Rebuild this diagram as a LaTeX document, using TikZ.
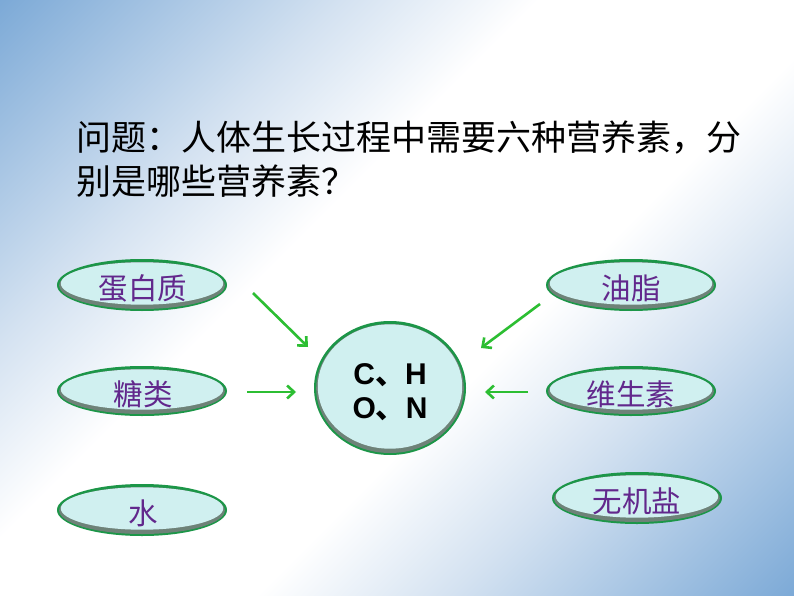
\documentclass[tikz,border=0pt]{standalone}
\usepackage{fontspec}
\setmainfont{Liberation Sans}
\newfontfamily\cjk{Noto Sans CJK SC}
\usetikzlibrary{arrows.meta,shapes.geometric}
\definecolor{bgb}{RGB}{122,168,214}
\definecolor{bgm}{RGB}{212,226,241}
\definecolor{edgegreen}{RGB}{28,150,72}
\definecolor{edgegray}{RGB}{110,130,120}
\definecolor{cyanfill}{RGB}{208,240,240}
\definecolor{txtpurple}{RGB}{98,40,140}
\definecolor{arrgreen}{RGB}{44,190,50}
\pgfdeclareverticalshading{bgshade}{100bp}{color(0bp)=(bgb); color(14bp)=(bgb); color(32bp)=(bgm); color(42bp)=(white); color(58bp)=(white); color(68bp)=(bgm); color(86bp)=(bgb); color(100bp)=(bgb)}
\tikzset{
  lbl/.style={font=\cjk\fontsize{29.5}{32}\selectfont, text=txtpurple, inner sep=0pt},
  ttl/.style={font=\cjk\fontsize{35}{40}\selectfont, text=black, inner sep=0pt, anchor=base west},
  arr/.style={draw=arrgreen, line width=2.6pt, -{Straight Barb[length=7pt,width=13pt,line width=2.6pt]}},
}
\newcommand{\bevel}[5]{% name, x, y, rx, ry
  \fill[edgegreen] (#2,#3) ellipse ({#4} and {#5});
  \fill[edgegray] (#2,#3+0.5) ellipse ({#4-2.2} and {#5-2.5});
  \fill[cyanfill] (#2,#3-1.5) ellipse ({#4-3.8} and {#5-4.8});
}
\begin{document}
\begin{tikzpicture}[x=1pt,y=-1pt]
\useasboundingbox (0,0) rectangle (794,596);
\shade[shading=bgshade, shading angle=45] (0,0) rectangle (794,596);

\node[ttl] (t1) at (76,150) {问题：人体生长过程中需要六种营养素，分};
\node[ttl] (t2) at (76,194) {别是哪些营养素？};

\bevel{e1}{142}{285}{85}{26}
\node[lbl] (e1) at (143,288) {蛋白质};
\bevel{e2}{142}{391}{85}{25}
\node[lbl] (e2) at (143,394) {糖类};
\bevel{e3}{142}{510}{85}{26}
\node[lbl] (e3) at (143,513) {水};
\bevel{e4}{631}{285}{85}{26}
\node[lbl] (e4) at (631,288) {油脂};
\bevel{e5}{631}{391}{85}{25}
\node[lbl] (e5) at (631,394) {维生素};
\bevel{e6}{637}{498}{85}{26}
\node[lbl] (e6) at (637,501) {无机盐};

\bevel{c}{390}{388}{76}{67}
\node[font=\bfseries\fontsize{30}{34}\selectfont, align=center, inner sep=0pt] (c) at (390,392) {C{\cjk 、}H\\O{\cjk 、}N};

\coordinate (a1s) at (253,293); \coordinate (a1e) at (308,347);
\coordinate (a2s) at (247,392); \coordinate (a2e) at (296,392);
\coordinate (a4s) at (540,304); \coordinate (a4e) at (481,348);
\coordinate (a5s) at (528,392); \coordinate (a5e) at (485,392);
\draw[arr] (a1s) -- (a1e);
\draw[arr] (a2s) -- (a2e);
\draw[arr] (a4s) -- (a4e);
\draw[arr] (a5s) -- (a5e);
\end{tikzpicture}
\end{document}
